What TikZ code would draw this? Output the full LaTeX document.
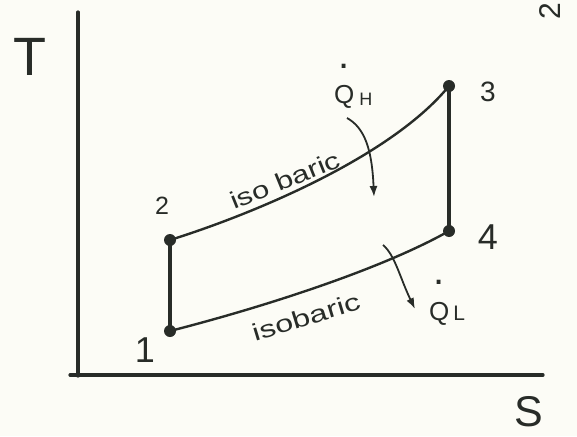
\documentclass[tikz,border=0pt]{standalone}
\usepackage{fontspec}
\setmainfont{Liberation Sans}
\usetikzlibrary{arrows.meta}
\definecolor{bg}{RGB}{252,252,246}
\definecolor{ink}{RGB}{40,44,40}
\newcommand\dotQ[1]{\makebox[0pt][l]{\kern4.5pt\raisebox{#1}{\fontsize{40}{40}\selectfont .}}Q}
\newcommand\fsz[1]{\fontsize{#1}{#1}\selectfont}
\begin{document}
\begin{tikzpicture}[x=1pt,y=-1pt,
  axisline/.style={draw=ink,line width=3.2pt,line cap=round},
  procline/.style={draw=ink,line width=4.4pt,line cap=round},
  curveline/.style={draw=ink,line width=2.4pt},
  heatarrow/.style={draw=ink,line width=1.8pt,-{Latex[length=11pt,width=8pt]}},
  statept/.style={circle,fill=ink,inner sep=0pt,minimum size=12pt},
  lbl/.style={text=ink,inner sep=0pt,anchor=center},
  isolbl/.style={text=ink,inner sep=0pt,anchor=center,font=\fsz{24}}]
\useasboundingbox[fill=bg] (0,0) rectangle (577,436);
% axes
\coordinate (xs) at (70,375);
\coordinate (xe) at (543,375);
\coordinate (yb) at (78,376);
\coordinate (yt) at (78,12);
\draw[axisline] (xs) -- (xe);
\draw[axisline] (yb) -- (yt);
\node[lbl,font=\fsz{54}] (T) at (30,57) {T};
\node[lbl,font=\fsz{43}] (S) at (529,412) {S};
% state points
\node[statept] (p1) at (170,331) {};
\node[statept] (p2) at (170,240) {};
\node[statept] (p3) at (449,86) {};
\node[statept] (p4) at (449,231) {};
\draw[procline] (p1.center) -- (p2.center);
\draw[procline] (p3.center) -- (p4.center);
\draw[curveline] (p2.center) .. controls (250,215) and (390,158) .. (p3.center);
\draw[curveline] (p1.center) .. controls (260,308) and (380,270) .. (p4.center);
% point labels
\node[lbl,font=\fsz{36}] (l1) at (145,350) {1};
\node[lbl,font=\fsz{25}] (l2) at (162,206) {2};
\node[lbl,font=\fsz{28}] (l3) at (488,92) {3};
\node[lbl,font=\fsz{36}] (l4) at (488,237) {4};
% process labels
\node[isolbl,rotate=22,xscale=1.3] (iso1) at (285,180) {iso baric};
\node[isolbl,rotate=17,xscale=1.35] (iso2) at (306,317) {isobaric};
% heat flows
\coordinate (qha) at (347,118);
\coordinate (qhb) at (374,197);
\draw[heatarrow] (qha) .. controls (365,128) and (372,150) .. (qhb);
\coordinate (qla) at (383,245);
\coordinate (qlb) at (415,309);
\draw[heatarrow] (qla) .. controls (395,255) and (400,278) .. (qlb);
\node[text=ink,inner sep=0pt,anchor=base west,font=\fsz{26}] (QH) at (334,103)
  {\dotQ{1.33em}\kern5pt\raisebox{-2pt}{\fsz{18}H}};
\node[text=ink,inner sep=0pt,anchor=base west,font=\fsz{26}] (QL) at (429,320)
  {\dotQ{1.38em}\kern4pt{\fsz{21}L}};
% cut-off page mark
\node[lbl,font=\fsz{30},rotate=90] (pg) at (550,11) {2};
\end{tikzpicture}
\end{document}
